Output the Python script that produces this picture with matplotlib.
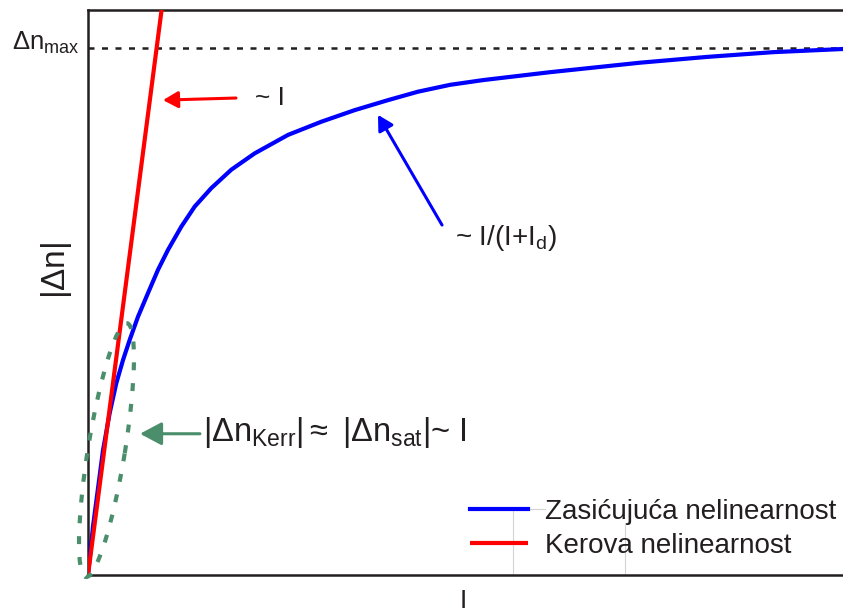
import matplotlib
matplotlib.use("Agg")
import matplotlib.pyplot as plt
import matplotlib.patches as mpatches
import matplotlib.transforms as mtransforms
import matplotlib.lines as mlines

plt.rcParams["font.family"] = ["Liberation Sans", "DejaVu Sans"]
plt.rcParams["mathtext.fontset"] = "custom"
plt.rcParams["mathtext.rm"] = "Liberation Sans"
plt.rcParams["mathtext.it"] = "Liberation Sans"
plt.rcParams["mathtext.bf"] = "Liberation Sans:bold"
plt.rcParams["mathtext.default"] = "regular"

# ---------------------------------------------------------------------------
# Data (intensity I in arbitrary units, |dn| normalised to dn_max)
# ---------------------------------------------------------------------------
I_sat = [0.0, 0.066, 0.132, 0.199, 0.287, 0.375, 0.464, 0.552, 0.662,
         0.795, 0.927, 1.060, 1.236, 1.413, 1.633, 1.898, 2.208, 2.649,
         3.090, 3.532, 3.974, 4.371, 4.795, 5.232, 6.119, 6.781, 7.311,
         8.199, 9.073, 10.0]
dn_sat = [0.0, 0.092, 0.164, 0.237, 0.307, 0.364, 0.408, 0.446, 0.490,
          0.535, 0.579, 0.617, 0.661, 0.699, 0.734, 0.769, 0.800, 0.835,
          0.860, 0.882, 0.901, 0.917, 0.930, 0.939, 0.954, 0.964, 0.972,
          0.983, 0.992, 0.998]

I_kerr = [0.0, 1.0]
dn_kerr = [0.0, 1.1]

DN_MAX = 1.0

legend_labels = ["Zasićujuća nelinearnost", "Kerova nelinearnost"]

# ---------------------------------------------------------------------------
# Colours
# ---------------------------------------------------------------------------
C_TXT = "#231f20"
C_BLUE = "#0000ff"
C_RED = "#ff0000"
C_GREEN = "#4a8e6b"

W, H = 843, 615
fig = plt.figure(figsize=(W / 100, H / 100), dpi=100)
ax = fig.add_axes([88 / W, 40 / H, 755 / W, 565 / H])

ax.set_xlim(0, 10)
ax.set_ylim(0, 1.072)
ax.set_xticks([])
ax.set_yticks([])
ax.spines["right"].set_visible(False)
for s in ["left", "top", "bottom"]:
    ax.spines[s].set_linewidth(1.8)
    ax.spines[s].set_color(C_TXT)

# dn_max level
ax.axhline(DN_MAX, color=C_TXT, lw=1.8, ls=(0, (2.4, 3.0)), zorder=1)

# curves
l_sat, = ax.plot(I_sat, dn_sat, color=C_BLUE, lw=3, zorder=3,
                 solid_joinstyle="round")
l_kerr, = ax.plot(I_kerr, dn_kerr, color=C_RED, lw=3, zorder=4,
                  solid_capstyle="butt")

# dotted ellipse around the low-intensity region (sized in pixels)
ell_tr = mtransforms.ScaledTranslation(0.245, 0.237, ax.transData)
ell = mpatches.Ellipse((0, 0), width=257, height=37, angle=80.8,
                       transform=ell_tr, fill=False, edgecolor=C_GREEN,
                       lw=3, ls=(0, (1.9, 3.1)), zorder=5, clip_on=False)
ax.add_patch(ell)

# annotations
ax.annotate("", xy=(0.993, 0.901), xytext=(1.96, 0.905),
            arrowprops=dict(arrowstyle="-|>,head_length=0.45,head_width=0.25",
                            color=C_RED, lw=2.2, shrinkA=0, shrinkB=0,
                            mutation_scale=20))
ax.text(2.21, 0.905, "~ I", fontsize=19, color=C_TXT, ha="left", va="center")

ax.annotate("", xy=(3.841, 0.873), xytext=(4.689, 0.664),
            arrowprops=dict(arrowstyle="-|>,head_length=0.45,head_width=0.25",
                            color=C_BLUE, lw=2.2, shrinkA=0, shrinkB=0,
                            mutation_scale=20))
ax.text(4.861, 0.64, "~ I/(I+I$_d$)", fontsize=20, color=C_TXT,
        ha="left", va="center")

ax.annotate("", xy=(0.689, 0.268), xytext=(1.483, 0.268),
            arrowprops=dict(arrowstyle="-|>,head_length=0.6,head_width=0.32",
                            color=C_GREEN, lw=2.2, shrinkA=0, shrinkB=0,
                            mutation_scale=22))
ax.text(1.523, 0.271, r"$|\Delta n_{Kerr}|\approx\ |\Delta n_{sat}|$~ I",
        fontsize=23.5, color=C_TXT, ha="left", va="center")

# faint frame lines left near the legend
for xs, ys in [([513, 545], [509, 509]), ([513, 513], [509, 575]),
               ([625, 625], [523, 575])]:
    ax.add_line(mlines.Line2D([(x - 88) / 755 for x in xs],
                              [(575 - y) / 565 for y in ys],
                              transform=ax.transAxes, color="#d4d4d4",
                              lw=0.8, zorder=0))

ax.legend([l_sat, l_kerr], legend_labels, loc="upper left",
          bbox_to_anchor=((470 - 88) / 755, (575 - 499) / 565),
          frameon=False, fontsize=20, handlelength=2.1, handletextpad=0.6,
          labelspacing=0.28, borderpad=0, borderaxespad=0,
          labelcolor=C_TXT)

# axis labels
fig.text(80 / W, 1 - 50 / H, r"$\Delta n_{max}$", fontsize=18.5, color=C_TXT,
         ha="right", va="baseline")
fig.text(57 / W, 1 - 270 / H, r"$|\Delta n|$", fontsize=24, color=C_TXT,
         ha="center", va="center", rotation=90)
fig.text(463 / W, 1 - 613 / H, "I", fontsize=19, color=C_TXT,
         ha="center", va="bottom")

fig.savefig("out.png", dpi=100, facecolor="white")
